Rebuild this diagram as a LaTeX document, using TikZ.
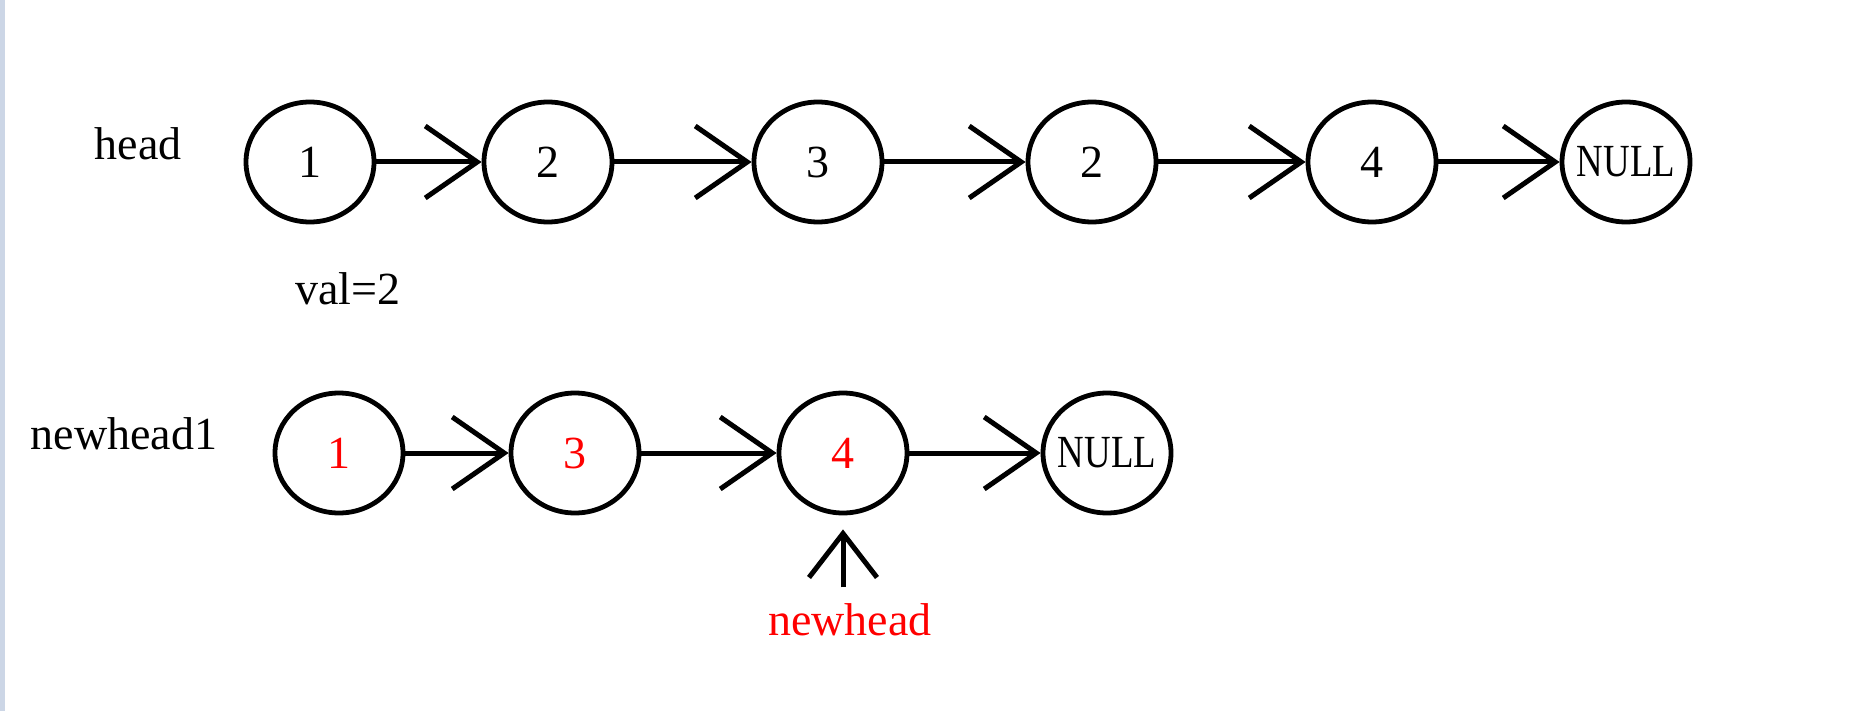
\documentclass[tikz,border=0pt]{standalone}
\usepackage{graphicx}
\usepackage{fontspec}
\setmainfont{Liberation Serif}
\usetikzlibrary{arrows.meta, positioning, shapes.geometric}
\definecolor{stripblue}{RGB}{204,214,230}
\newcommand{\nulltxt}{\makebox[40pt]{\scalebox{0.8}[1]{NULL}}}

\begin{document}
\begin{tikzpicture}[
  x=0.5pt, y=-0.5pt,
  font=\fontsize{23}{28}\selectfont,
  elem/.style={draw, ellipse, line width=2.4pt, minimum width=64pt, minimum height=60pt, inner sep=0pt},
  newelem/.style={elem, text=red},
  lbl/.style={inner sep=0pt},
  arr/.style={line width=2.5pt, -{Straight Barb[length=26pt, width=36pt]}},
  uparr/.style={line width=2.5pt, -{Straight Barb[length=22pt, width=34pt]}}
]
\fill[white] (0,0) rectangle (1850,711);
\fill[stripblue] (0,0) rectangle (5,711);

\node[elem] (c1) at (310,162) {1};
\node[elem, right=52.6pt of c1] (c2) {2};
\node[elem, right=68.6pt of c2] (c3) {3};
\node[elem, right=70.6pt of c3] (c4) {2};
\node[elem, right=73.6pt of c4] (c5) {4};
\node[elem, right=60.6pt of c5] (c6) {\nulltxt};

\node[newelem] (d1) at (339,453) {1};
\node[newelem, right=51.6pt of d1] (d2) {3};
\node[newelem, right=67.6pt of d2] (d3) {4};
\node[elem, right=65.6pt of d3] (d4) {\nulltxt};

\node[lbl] (head) at (138,144) {head};
\node[lbl] (val) at (348,289) {val=2};
\node[lbl] (nh1) at (124,434) {newhead1};
\node[lbl, text=red] (nh) at (850,620) {newhead};

\draw[arr] (c1) -- (c2);
\draw[arr] (c2) -- (c3);
\draw[arr] (c3) -- (c4);
\draw[arr] (c4) -- (c5);
\draw[arr] (c5) -- (c6);

\draw[arr] (d1) -- (d2);
\draw[arr] (d2) -- (d3);
\draw[arr] (d3) -- (d4);

\draw[uparr, shorten <=8pt, shorten >=7pt] (d3.south |- nh.north) -- (d3.south);
\end{tikzpicture}
\end{document}
